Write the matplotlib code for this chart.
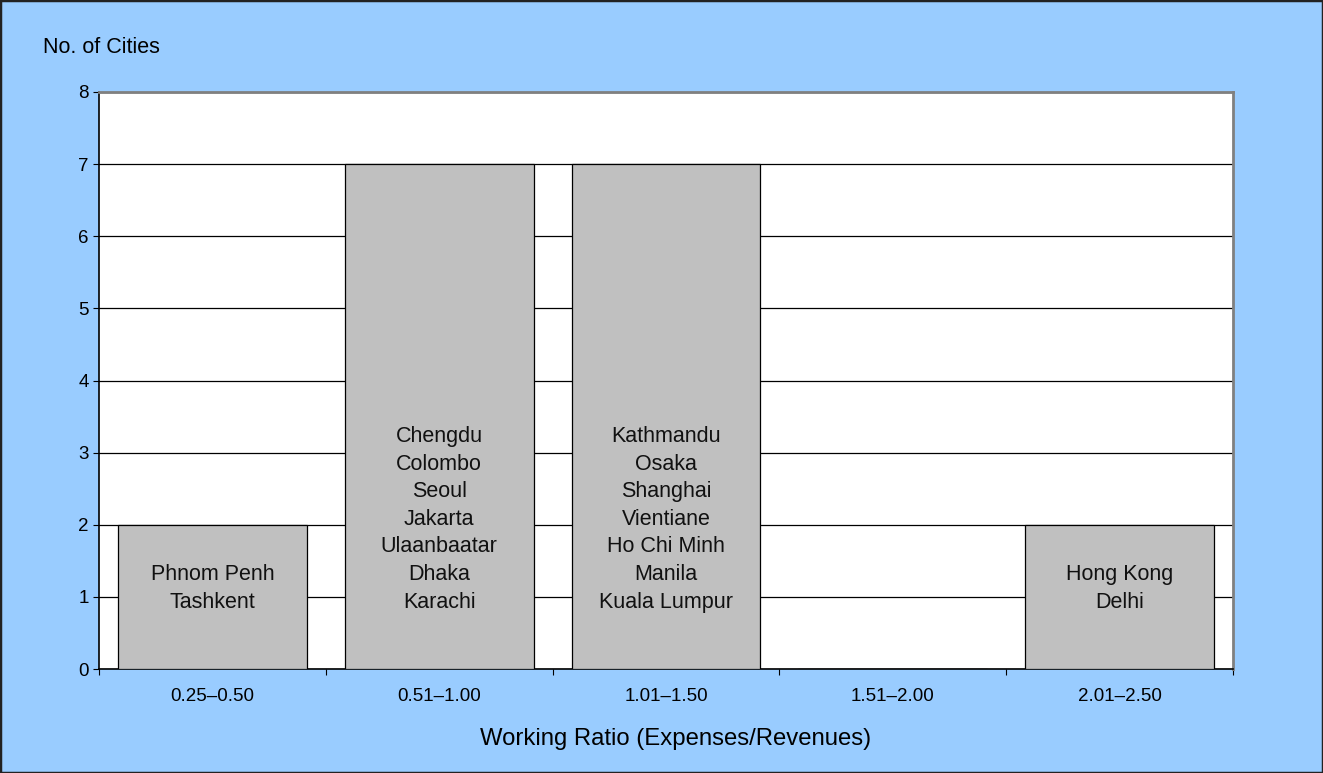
import matplotlib.pyplot as plt
import numpy as np

categories = ["0.25\u20130.50", "0.51\u20131.00", "1.01\u20131.50", "1.51\u20132.00", "2.01\u20132.50"]
counts = [2, 7, 7, 0, 2]
cities = [
    ["Phnom Penh", "Tashkent"],
    ["Chengdu", "Colombo", "Seoul", "Jakarta", "Ulaanbaatar", "Dhaka", "Karachi"],
    ["Kathmandu", "Osaka", "Shanghai", "Vientiane", "Ho Chi Minh", "Manila", "Kuala Lumpur"],
    [],
    ["Hong Kong", "Delhi"],
]

plt.rcParams['font.family'] = ['Liberation Sans', 'DejaVu Sans']

fig = plt.figure(figsize=(13.23, 7.73), dpi=100, facecolor="#99CCFF")
ax = fig.add_axes([99 / 1323, 1 - 669 / 773, (1233 - 99) / 1323, (669 - 92) / 773])
ax.set_facecolor("white")

x = np.arange(len(categories))
ax.bar(x, counts, width=0.833, color="#C0C0C0", edgecolor="black", linewidth=0.9, zorder=3)

for xi, names in zip(x, cities):
    if names:
        ax.text(xi, 0.78, "\n".join(names), ha="center", va="bottom",
                fontsize=15.5, linespacing=1.415, color="#111111", zorder=4)

ax.set_xlim(-0.5, len(categories) - 0.5)
ax.set_ylim(0, 8)
ax.set_yticks(range(9))
ax.yaxis.grid(True, color="black", linewidth=0.9, zorder=0)
ax.set_axisbelow(True)

ax.set_xticks(np.arange(-0.5, len(categories), 1.0))
ax.set_xticklabels([])
ax.set_xticks(x, minor=True)
ax.set_xticklabels(categories, minor=True, fontsize=13.5)
ax.tick_params(axis="x", which="minor", length=0, pad=13.5)
ax.tick_params(axis="x", which="major", length=4.5, direction="out")
ax.tick_params(axis="y", length=4.5, direction="out", labelsize=13.5, pad=3)

for side in ["left", "bottom"]:
    ax.spines[side].set_color("black")
    ax.spines[side].set_linewidth(1.2)
for side in ["top", "right"]:
    ax.spines[side].set_color("#808080")
    ax.spines[side].set_linewidth(2)

fig.text(43 / 1323, 1 - 47.5 / 773, "No. of Cities", fontsize=15.5, ha="left", va="center")
fig.text(676 / 1323, 1 - 739 / 773, "Working Ratio (Expenses/Revenues)", fontsize=17.2,
         ha="center", va="center")

border = plt.Rectangle((0, 0), 1, 1, transform=fig.transFigure, fill=False,
                       edgecolor="#222222", linewidth=2.5)
fig.patches.append(border)

fig.savefig("out.png", dpi=100, facecolor=fig.get_facecolor())
